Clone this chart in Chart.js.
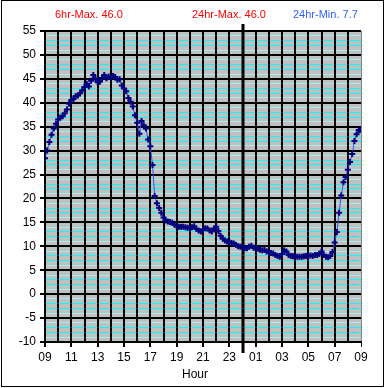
<!DOCTYPE html>
<html lang="en">
<head>
<meta charset="UTF-8">
<title>24hr Temperature</title>
<script src="https://cdn.jsdelivr.net/npm/chart.js"></script>
<style>
  body { margin: 0; background: #fff; font-family: 'Liberation Sans', Arial, sans-serif; }
  #wrap { position: relative; width: 385px; height: 388px; }
  #frame { position: absolute; left: 1px; top: 0; width: 381px; height: 385px; border: 1px solid #000; }
  canvas { position: absolute; left: 0; top: 0; }
  .hdr { position: absolute; top: 8px; font-size: 11px; line-height: 13px; white-space: nowrap; }
  #xTitle { position: absolute; left: 195px; top: 367px; font-size: 12px; line-height: 14px; transform: translateX(-50%); }
</style>
</head>
<body>
<div id="wrap">
  <div id="frame"></div>
  <canvas id="chart" width="385" height="388"></canvas>
  <div class="hdr" style="left:55px; color:#ff0000;">6hr-Max. 46.0</div>
  <div class="hdr" style="left:192px; color:#ff0000;">24hr-Max. 46.0</div>
  <div class="hdr" style="left:293px; color:#3060ff;">24hr-Min. 7.7</div>
  <div id="xTitle">Hour</div>
</div>

<script>
// readings, every 10 minutes from 09:00 to 08:55 next morning
const times = [
  '09:00','09:10','09:20','09:30','09:40','09:50','10:00','10:10','10:20','10:30','10:40','10:50',
  '11:00','11:10','11:20','11:30','11:40','11:50','12:00','12:10','12:20','12:30','12:40','12:50',
  '13:00','13:10','13:20','13:30','13:40','13:50','14:00','14:10','14:20','14:30','14:40','14:50',
  '15:00','15:10','15:20','15:30','15:40','15:50','16:00','16:10','16:20','16:30','16:40','16:50',
  '17:00','17:10','17:20','17:30','17:40','17:50','18:00','18:10','18:20','18:30','18:40','18:50',
  '19:00','19:10','19:20','19:30','19:40','19:50','20:00','20:10','20:20','20:30','20:40','20:50',
  '21:00','21:10','21:20','21:30','21:40','21:50','22:00','22:10','22:20','22:30','22:40','22:50',
  '23:00','23:10','23:20','23:30','23:40','23:50','00:00','00:10','00:20','00:30','00:40','00:50',
  '01:00','01:10','01:20','01:30','01:40','01:50','02:00','02:10','02:20','02:30','02:40','02:50',
  '03:00','03:10','03:20','03:30','03:40','03:50','04:00','04:10','04:20','04:30','04:40','04:50',
  '05:00','05:10','05:20','05:30','05:40','05:50','06:00','06:10','06:20','06:30','06:40','06:50',
  '07:00','07:10','07:20','07:30','07:40','07:50','08:00','08:10','08:20','08:30','08:40','08:50',
  '08:55'
];
const temps = [
  28.4, 30.0, 31.8, 33.3, 34.6, 35.6, 36.5, 36.9, 37.2, 37.8, 38.6, 39.8,
  40.6, 40.8, 41.4, 41.5, 42.0, 42.6, 43.3, 44.0, 43.4, 44.6, 45.8, 45.0,
  44.3, 44.4, 45.2, 45.8, 45.1, 45.5, 45.3, 45.6, 45.4, 44.8, 44.9, 43.6,
  43.0, 42.4, 41.0, 40.2, 39.2, 37.4, 35.8, 33.5, 36.2, 35.3, 34.6, 32.3,
  30.9, 27.0, 20.5, 19.0, 18.0, 17.0, 16.0, 15.4, 15.2, 15.1, 14.9, 14.5,
  14.2, 14.1, 14.1, 14.1, 14.0, 13.9, 13.8, 14.0, 14.2, 13.6, 13.3, 13.1,
  13.5, 13.8, 13.7, 13.3, 13.1, 13.7, 14.1, 13.2, 12.2, 11.6, 11.2, 11.0,
  10.9, 10.7, 10.6, 10.3, 10.0, 9.9, 9.8, 9.6, 9.6, 9.9, 10.1, 9.7,
  9.6, 9.5, 9.3, 9.2, 9.3, 8.9, 8.8, 8.6, 8.5, 8.2, 8.0, 7.8,
  8.4, 9.2, 8.9, 8.2, 8.0, 7.9, 7.9, 7.8, 7.8, 7.8, 7.9, 8.0,
  8.0, 8.1, 8.0, 8.2, 8.2, 8.4, 8.9, 8.2, 7.8, 7.7, 8.0, 8.8,
  10.8, 13.0, 17.0, 20.6, 23.4, 24.5, 26.0, 27.6, 29.3, 32.0, 33.4, 34.3,
  34.3
];
const hourLabels = ['09','11','13','15','17','19','21','23','01','03','05','07','09'];
const yLabels = ['-10','-5','0','5','10','15','20','25','30','35','40','45','50','55'];

const FONT = "'Liberation Sans', Arial, sans-serif";

// hours after midnight of day 1 (times before 09:00 belong to the next day)
function toHour(t) {
  let [h, m] = t.split(':').map(Number);
  let v = h + m / 60;
  if (v < 9) v += 24;
  return v;
}

function isLabelled(v) {
  return (v - 9) % 2 === 0;
}

const plotBg = {
  id: 'plotBg',
  beforeDraw(chart) {
    const a = chart.chartArea, c = chart.ctx;
    c.save();
    c.fillStyle = '#c0c0c0';
    c.fillRect(a.left, a.top, a.right - a.left, a.bottom - a.top);
    c.restore();
  }
};

// heavy line marking midnight
const midnight = {
  id: 'midnight',
  beforeDatasetsDraw(chart) {
    const a = chart.chartArea, c = chart.ctx;
    const x = Math.round(chart.scales.x.getPixelForValue(24));
    c.save();
    c.strokeStyle = '#000';
    c.lineWidth = 3;
    c.beginPath();
    c.moveTo(x, a.top - 7);
    c.lineTo(x, a.bottom + 11);
    c.stroke();
    c.restore();
  }
};

new Chart(document.getElementById('chart'), {
  type: 'line',
  data: {
    datasets: [{
      data: times.map((t, i) => ({ x: toHour(t), y: temps[i] })),
      borderColor: '#3050ff',
      borderWidth: 1,
      pointStyle: 'cross',
      pointRadius: 3,
      pointBorderColor: '#000080',
      pointBorderWidth: 2,
      tension: 0
    }]
  },
  options: {
    responsive: false,
    animation: false,
    layout: { padding: { left: 0, top: 31, right: 24, bottom: 0 } },
    plugins: { legend: { display: false }, tooltip: { enabled: false } },
    scales: {
      x: {
        type: 'linear',
        min: 9,
        max: 33,
        afterFit: s => { s.height = 46; },
        ticks: {
          stepSize: 1,
          autoSkip: false,
          maxRotation: 0,
          color: '#000',
          font: { family: FONT, size: 12 },
          callback: v => isLabelled(v) ? hourLabels[(v - 9) / 2] : ''
        },
        grid: {
          z: -1,
          lineWidth: ctx => (ctx.tick && ctx.tick.value === 33) ? 1 : 2,
          tickLength: 5,
          color: ctx => (ctx.tick && ctx.tick.value === 33) ? '#808080' : '#000',
          tickColor: ctx => (ctx.tick && isLabelled(ctx.tick.value)) ? '#000' : 'rgba(0,0,0,0)'
        },
        border: { display: true, color: '#000', width: 2 }
      },
      y: {
        min: -10,
        max: 55,
        afterFit: s => { s.width = 45; },
        ticks: {
          stepSize: 1,
          autoSkip: false,
          padding: 4,
          color: '#000',
          font: { family: FONT, size: 12 },
          callback: v => v % 5 === 0 ? yLabels[(v + 10) / 5] : ''
        },
        grid: {
          z: -2,
          lineWidth: ctx => (ctx.tick && ctx.tick.value % 5 === 0) ? 2 : 1,
          tickLength: 5,
          color: ctx => {
            const v = ctx.tick ? ctx.tick.value : 0;
            const k = ((v % 5) + 5) % 5;
            if (k === 0) return '#000';
            return (k === 2 || k === 3) ? '#00ffff' : '#a0f0f0';
          },
          tickColor: ctx => (ctx.tick && ctx.tick.value % 5 === 0) ? '#000' : 'rgba(0,0,0,0)'
        },
        border: { display: true, color: '#000', width: 2 }
      }
    }
  },
  plugins: [plotBg, midnight]
});
</script>
</body>
</html>
